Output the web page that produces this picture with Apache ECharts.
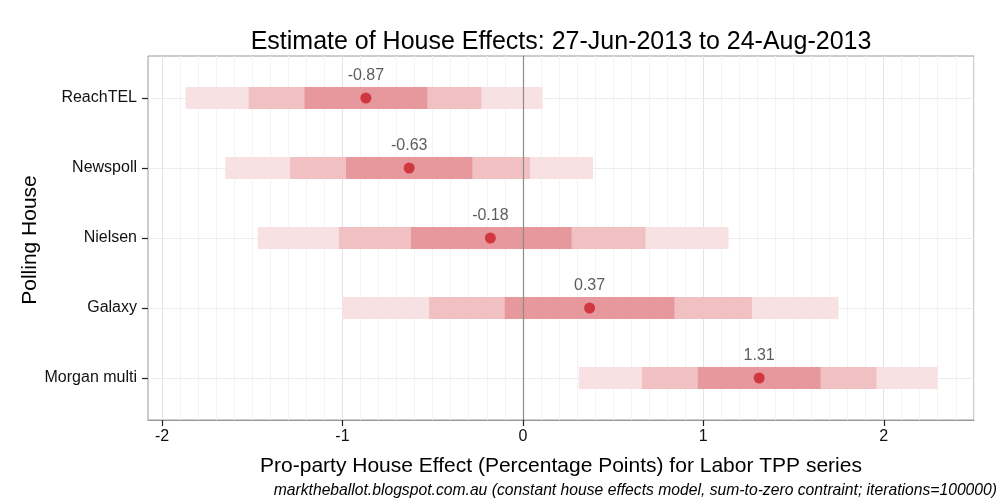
<!DOCTYPE html>
<html><head><meta charset="utf-8">
<script src="https://cdn.jsdelivr.net/npm/echarts@6/dist/echarts.min.js"></script>
<style>html,body{margin:0;padding:0;background:#fff}#c{width:1000px;height:500px}</style>
</head><body><div id="c"></div>
<script>
const houses = ['ReachTEL','Newspoll','Nielsen','Galaxy','Morgan multi'];
const centre = [-0.87, -0.63, -0.18, 0.37, 1.31];
const outerLo = [-1.87, -1.65, -1.47, -1.00, 0.31];
const midLo   = [-1.52, -1.29, -1.02, -0.52, 0.66];
const innerLo = [-1.21, -0.98, -0.62, -0.10, 0.97];
const innerHi = [-0.53, -0.28, 0.27, 0.84, 1.65];
const midHi   = [-0.23, 0.04, 0.68, 1.27, 1.96];
const outerHi = [0.11, 0.39, 1.14, 1.75, 2.30];
const xTicks = [-2, -1, 0, 1, 2];

const FONT = 'Liberation Sans, Arial, sans-serif';
const chart = echarts.init(document.getElementById('c'), null, {renderer:'canvas'});

const rectData = [];
houses.forEach((h,i)=>{
  rectData.push([outerLo[i], outerHi[i], i+1, 0]);
  rectData.push([midLo[i], midHi[i], i+1, 1]);
  rectData.push([innerLo[i], innerHi[i], i+1, 2]);
});
const bandColors = ['#f7e1e3', '#f0c0c3', '#e6989c'];

const minorX = [];
for (let k = -20; k <= 25; k++) { if (k % 10 !== 0) minorX.push(k/10); }

const texts = [
  {type:'text', x:561, y:42, style:{text:'Estimate of House Effects: 27-Jun-2013 to 24-Aug-2013', font:'25px '+FONT, fill:'#000', textAlign:'center', textVerticalAlign:'middle'}},
  {type:'text', x:561, y:466, style:{text:'Pro-party House Effect (Percentage Points) for Labor TPP series', font:'21px '+FONT, fill:'#000', textAlign:'center', textVerticalAlign:'middle'}},
  {type:'text', x:30, y:240, rotation:Math.PI/2, style:{text:'Polling House', font:'21px '+FONT, fill:'#000', textAlign:'center', textVerticalAlign:'middle'}},
  {type:'text', x:997, y:491, style:{text:'marktheballot.blogspot.com.au (constant house effects model, sum-to-zero contraint; iterations=100000)', font:'italic 15.7px '+FONT, fill:'#000', textAlign:'right', textVerticalAlign:'middle'}}
];

chart.setOption({
  animation:false,
  backgroundColor:'#fff',
  textStyle:{fontFamily:FONT},
  grid:{left:148, right:26, top:56, bottom:80, show:true, borderColor:'#9a9a9a', borderWidth:1, backgroundColor:'#fff', containLabel:false},
  xAxis:{type:'value', min:-2.078, max:2.501,
    axisLine:{show:true, lineStyle:{color:'#9a9a9a', width:1}},
    axisTick:{show:false},
    axisLabel:{customValues:xTicks, color:'#111', fontSize:16, margin:9, fontFamily:FONT},
    splitLine:{show:false}},
  yAxis:{type:'value', min:0.4, max:5.6, inverse:true,
    axisLine:{show:true, lineStyle:{color:'#9a9a9a', width:1}},
    axisTick:{show:false},
    axisLabel:{customValues:[1,2,3,4,5], color:'#111', fontSize:16, margin:11, fontFamily:FONT,
      formatter:v=>houses[Math.round(v)-1]||''},
    splitLine:{show:false}},
  graphic:texts,
  series:[
    {type:'line', data:[], z:1, silent:true,
      markLine:{silent:true, z:1, symbol:'none', label:{show:false}, animation:false,
        data:[
          ...minorX.map(v=>({xAxis:v, lineStyle:{color:'#f3f3f3', width:1, type:'solid'}})),
          ...[-2,-1,1,2].map(v=>({xAxis:v, lineStyle:{color:'#e3e3e3', width:1, type:'solid'}})),
          ...[1,2,3,4,5].map(v=>({yAxis:v, lineStyle:{color:'#ececec', width:1.2, type:'solid'}}))
        ]}},
    {type:'custom', z:2, data:rectData, silent:true,
      renderItem:(params, api)=>{
        const a = api.coord([api.value(0), api.value(2)]);
        const b = api.coord([api.value(1), api.value(2)]);
        const h = 22;
        return {type:'rect', shape:{x:a[0], y:a[1]-h/2, width:b[0]-a[0], height:h},
          style:{fill:bandColors[api.value(3)]}};
      },
      encode:{x:[0,1], y:2}},
    {type:'line', data:[], z:3, silent:true,
      markLine:{silent:true, z:3, symbol:'none', label:{show:false}, animation:false,
        data:[{xAxis:0, lineStyle:{color:'#8c8c8c', width:1.2, type:'solid'}}]}},
    {type:'scatter', z:4, symbolSize:11, itemStyle:{color:'#cc1f27'},
      data:centre.map((v,i)=>[v, i+1]),
      label:{show:true, position:'top', distance:9, color:'#333', fontSize:16, fontFamily:FONT,
        formatter:p=>p.value[0].toFixed(2)}}
  ]
});

// axis tick marks (outside the panel, like ggplot)
const ticks = [];
xTicks.forEach(v=>{
  const p = chart.convertToPixel({gridIndex:0}, [v, 5.6]);
  const x = Math.round(p[0]) + 0.5;
  ticks.push({type:'line', shape:{x1:x, y1:p[1], x2:x, y2:p[1]+6}, style:{stroke:'#222', lineWidth:1.2}, z:10});
});
[1,2,3,4,5].forEach(v=>{
  const p = chart.convertToPixel({gridIndex:0}, [-2.078, v]);
  const y = Math.round(p[1]) + 0.5;
  ticks.push({type:'line', shape:{x1:p[0]-6, y1:y, x2:p[0], y2:y}, style:{stroke:'#222', lineWidth:1.2}, z:10});
});
chart.setOption({graphic: texts.concat(ticks)});
</script></body></html>
